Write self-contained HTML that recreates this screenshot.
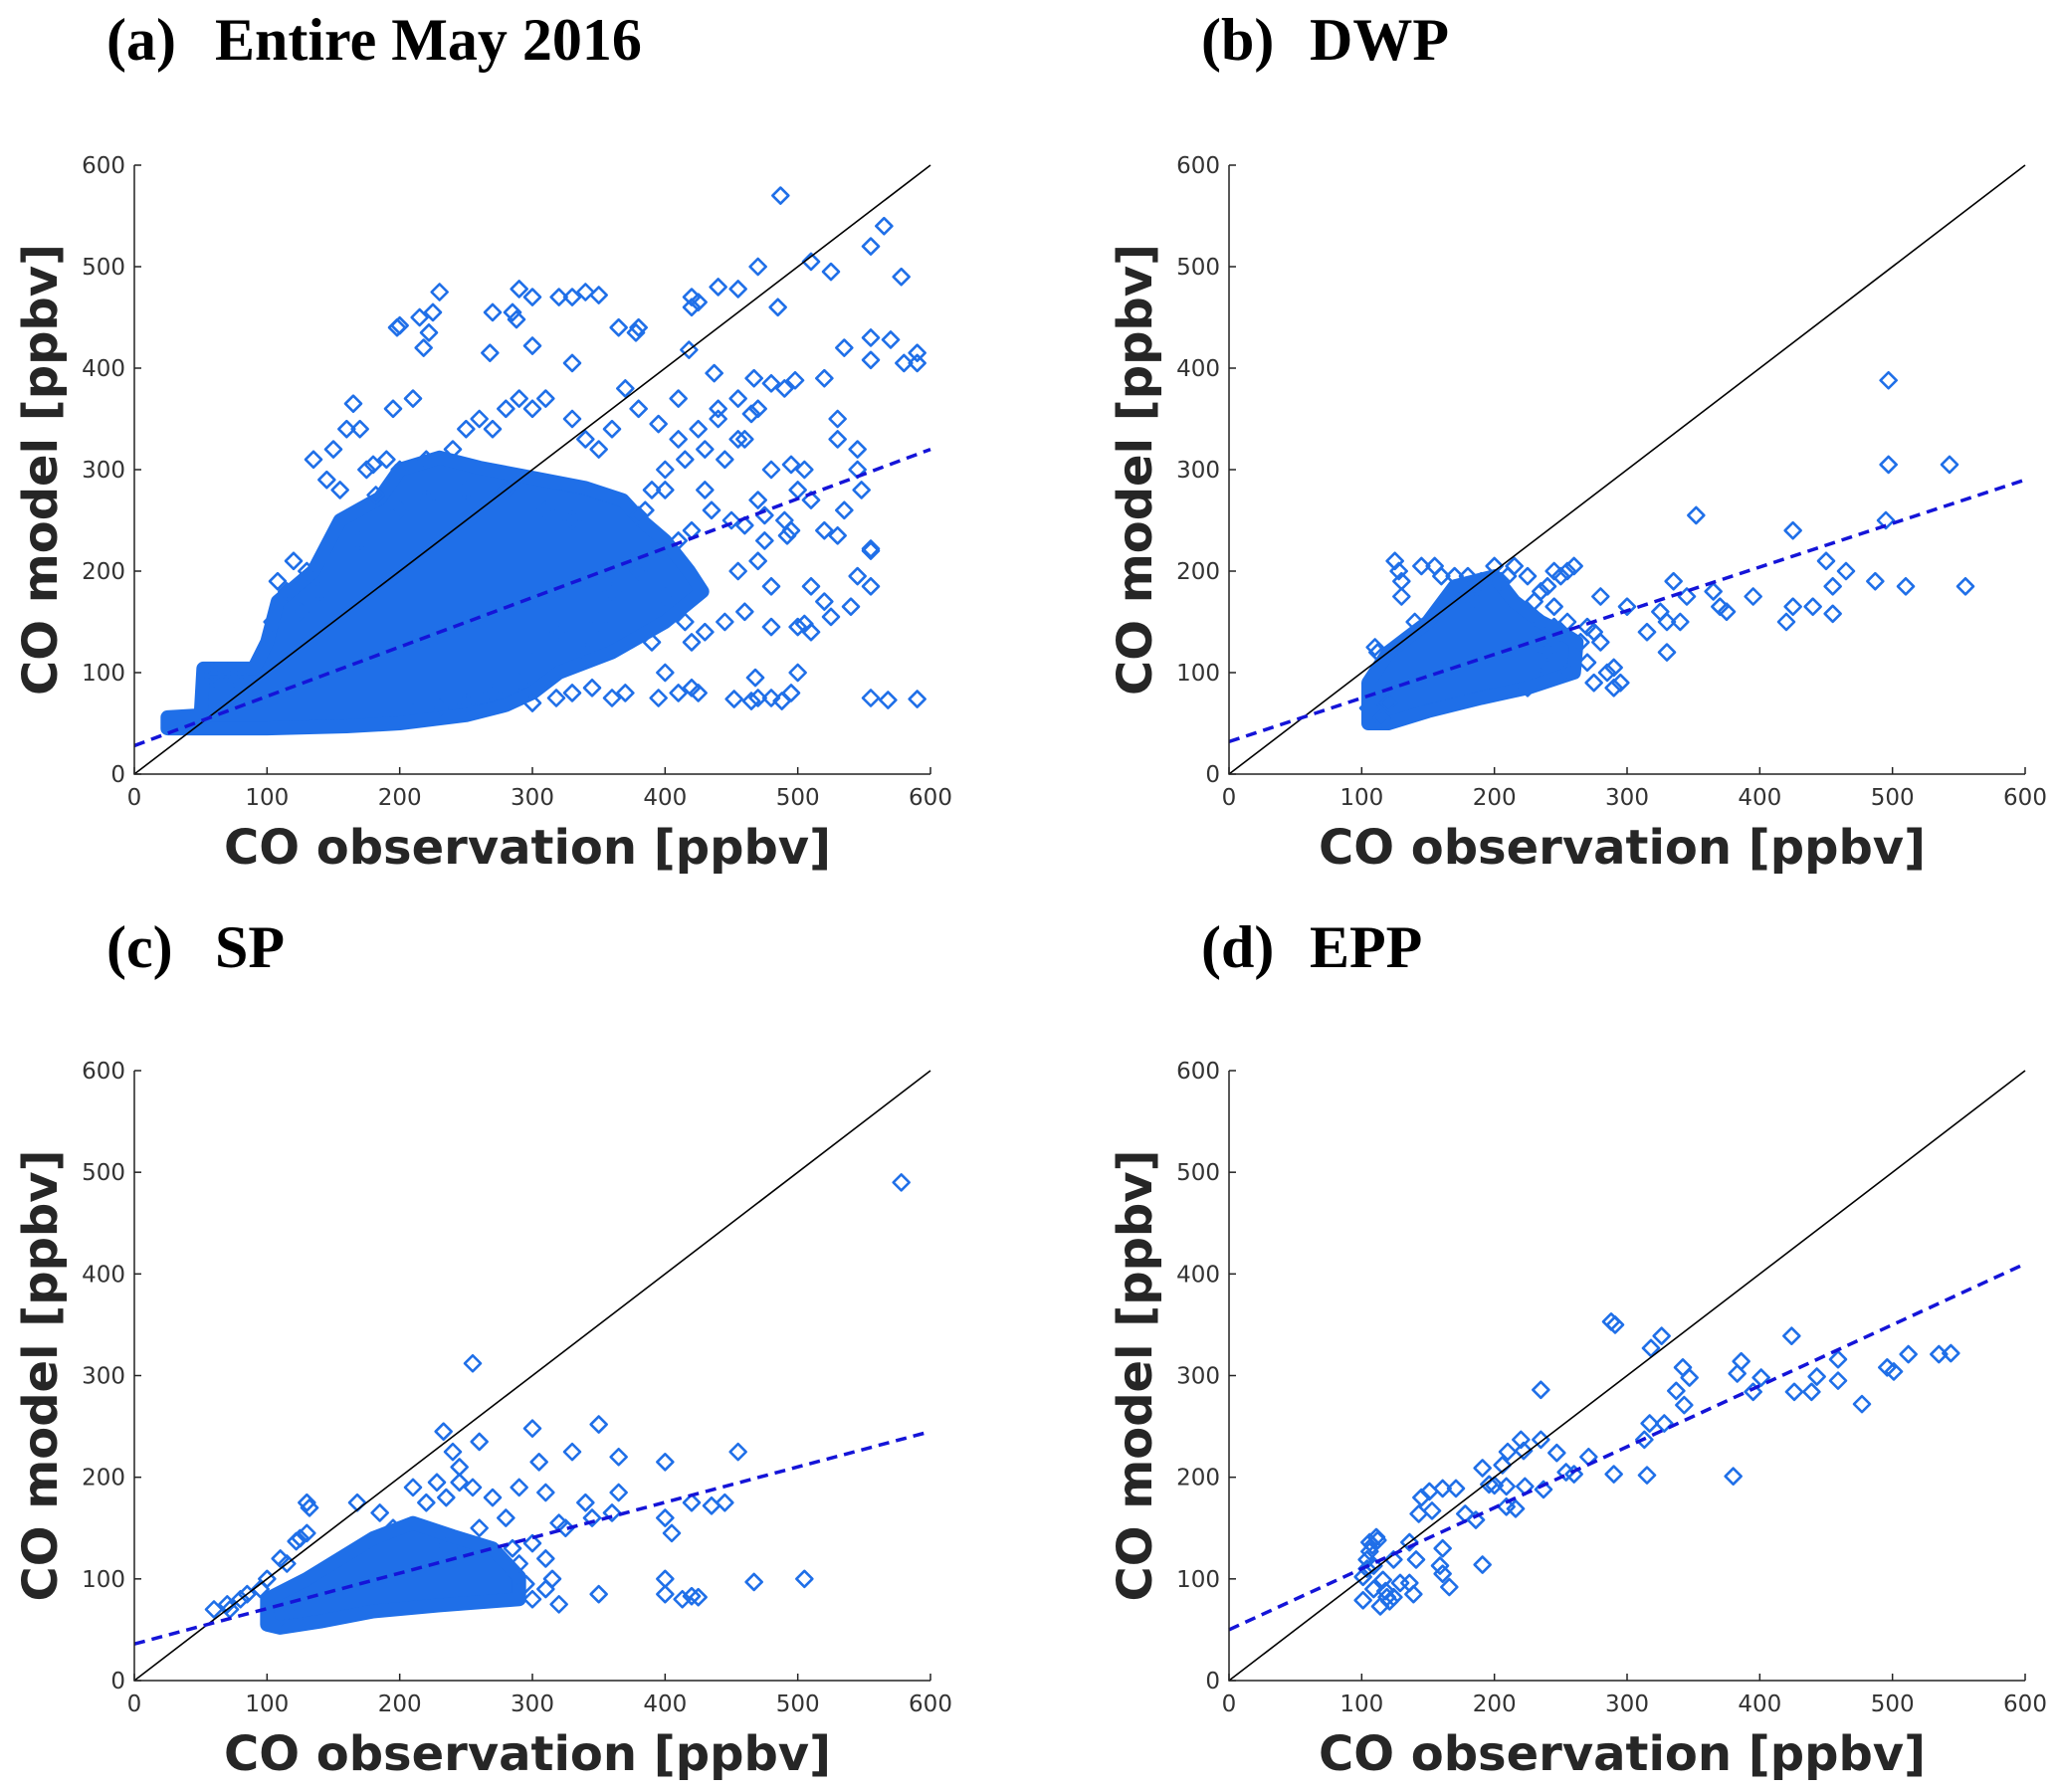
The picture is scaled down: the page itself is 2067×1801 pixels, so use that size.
<!DOCTYPE html>
<html><head><meta charset="utf-8"><style>
body{margin:0;background:#fff}
svg{display:block}
.tick{font-family:"DejaVu Sans","Liberation Sans",sans-serif;font-size:23px;fill:#333}
.atitle{font-family:"DejaVu Sans","Liberation Sans",sans-serif;font-size:48px;font-weight:bold;fill:#262626}
.ptitle{font-family:"Liberation Serif",serif;font-size:60px;font-weight:bold;fill:#000}
</style></head><body>
<svg id="fig" width="2067" height="1801" viewBox="0 0 2067 1801" xmlns="http://www.w3.org/2000/svg">
<g><text class="ptitle" x="107" y="60">(a)</text><text class="ptitle" x="216" y="60">Entire May 2016</text></g>
<g><text class="ptitle" x="1207" y="60">(b)</text><text class="ptitle" x="1316" y="60">DWP</text></g>
<g><text class="ptitle" x="107" y="972">(c)</text><text class="ptitle" x="216" y="972">SP</text></g>
<g><text class="ptitle" x="1207" y="972">(d)</text><text class="ptitle" x="1316" y="972">EPP</text></g>
</svg>
<script>
const tickValues=[0,100,200,300,400,500,600];
const fitA=[28,320], fitB=[32,290], fitC=[36,245], fitD=[50,410];
const coreA=[[25,45],[25,56],[50,58],[52,104],[90,104],[100,130],[108,170],[135,200],[155,250],[185,272],[200,300],[230,312],[260,302],[300,292],[340,282],[368,270],[382,250],[400,230],[418,200],[428,180],[400,150],[360,120],[320,100],[300,80],[280,68],[250,58],[200,50],[160,47],[100,45]];
const coreB=[[105,50],[105,90],[120,120],[150,150],[170,185],[200,195],[215,170],[235,150],[250,140],[262,130],[260,100],[225,85],[190,75],[150,62],[120,50]];
const coreC=[[100,55],[100,80],[130,100],[180,140],[210,155],[240,142],[270,130],[290,102],[290,80],[230,74],[180,68],[140,58],[110,52]];
const coreD=[];
const ptsA=[[487,570],[565,540],[555,520],[578,490],[510,505],[525,495],[470,500],[440,480],[455,478],[420,470],[425,465],[420,460],[485,460],[290,478],[300,470],[230,475],[320,470],[330,470],[340,475],[350,472],[200,442],[198,440],[215,450],[225,455],[218,420],[222,435],[270,455],[285,455],[288,448],[268,415],[300,422],[330,405],[365,440],[380,440],[378,435],[418,418],[535,420],[555,430],[570,428],[580,405],[590,415],[590,405],[555,408],[520,390],[498,388],[490,380],[480,385],[467,390],[437,395],[455,370],[410,370],[425,340],[440,360],[440,350],[165,365],[195,360],[210,370],[135,310],[150,320],[160,340],[170,340],[175,300],[182,275],[530,350],[545,320],[545,300],[535,260],[548,280],[505,300],[510,270],[492,235],[500,280],[530,330],[555,220],[555,222],[545,195],[555,185],[540,165],[520,170],[525,155],[510,185],[500,145],[505,148],[510,140],[480,145],[460,160],[475,230],[470,210],[480,185],[455,200],[445,150],[430,140],[420,130],[415,150],[400,175],[390,130],[480,75],[470,75],[465,72],[452,74],[488,72],[495,80],[500,100],[468,95],[555,75],[568,73],[590,74],[420,85],[425,80],[400,100],[410,80],[395,75],[370,80],[360,75],[345,85],[330,80],[318,75],[300,70],[350,320],[360,340],[370,380],[380,360],[395,345],[410,330],[400,300],[390,280],[380,255],[455,330],[465,355],[470,360],[450,250],[460,245],[430,280],[435,260],[420,240],[410,230],[330,350],[340,330],[300,360],[310,370],[290,370],[280,360],[260,350],[250,340],[240,320],[270,340],[220,310],[200,300],[190,310],[180,305],[145,290],[155,280],[120,210],[108,190],[104,150],[115,180],[130,200],[460,330],[445,310],[480,300],[495,305],[470,270],[475,255],[490,250],[495,240],[520,240],[530,235],[430,320],[415,310],[400,280],[385,260],[380,200],[360,180],[350,150],[340,120],[320,140],[300,110],[290,90],[270,80],[250,70],[230,65],[210,60],[330,250],[310,260],[280,280],[250,280],[220,270],[200,260],[170,230],[150,210],[140,180],[125,160],[60,100],[70,100],[80,100],[60,95],[75,95]];
const ptsB=[[497,388],[497,305],[543,305],[352,255],[495,250],[425,240],[487,190],[510,185],[555,185],[465,200],[450,210],[455,185],[440,165],[455,158],[425,165],[420,150],[395,175],[375,160],[370,165],[365,180],[340,150],[345,175],[335,190],[325,160],[330,150],[330,120],[315,140],[300,165],[280,175],[290,85],[295,90],[285,100],[275,90],[270,110],[265,130],[255,200],[250,195],[260,205],[245,200],[240,185],[230,170],[215,205],[200,205],[180,195],[160,195],[155,205],[145,205],[125,210],[128,200],[130,175],[140,150],[110,125],[112,120],[130,190],[185,170],[205,190],[210,195],[230,155],[245,145],[250,140],[240,120],[255,100],[235,95],[225,85],[280,130],[275,140],[290,105],[270,145],[110,60],[115,55],[105,65],[120,70],[235,180],[245,165],[255,150],[225,195],[190,190],[170,195]];
const ptsC=[[578,490],[255,312],[350,252],[300,248],[260,235],[233,245],[240,225],[245,210],[245,195],[228,195],[255,190],[270,180],[235,180],[210,190],[220,175],[365,220],[330,225],[455,225],[400,215],[305,215],[445,175],[420,175],[435,172],[400,160],[405,145],[310,185],[290,190],[280,160],[320,155],[325,150],[340,175],[365,185],[360,165],[345,160],[400,100],[400,85],[420,83],[413,80],[425,82],[350,85],[320,75],[310,90],[315,100],[300,80],[295,95],[467,97],[505,100],[130,175],[132,170],[125,140],[130,145],[122,137],[70,75],[72,70],[60,70],[80,80],[85,85],[168,175],[185,165],[195,150],[300,135],[310,120],[285,130],[290,115],[95,90],[100,100],[110,120],[115,115],[260,150],[230,140],[250,130],[105,58],[110,62],[120,60]];
const ptsD=[[288,353],[291,350],[326,339],[318,327],[424,339],[342,308],[347,298],[337,285],[343,271],[386,314],[383,302],[401,298],[395,284],[426,284],[439,284],[443,299],[459,316],[459,295],[477,272],[496,308],[501,304],[512,321],[535,321],[544,322],[380,201],[235,286],[315,202],[290,203],[313,237],[317,253],[328,253],[271,220],[254,205],[260,203],[247,224],[235,237],[220,237],[222,226],[210,225],[206,212],[191,209],[196,193],[200,192],[209,191],[223,191],[237,188],[209,171],[216,169],[191,114],[178,164],[186,158],[171,189],[161,189],[151,186],[145,180],[143,164],[153,167],[161,130],[159,113],[161,105],[166,92],[141,119],[136,136],[124,119],[136,96],[139,85],[129,96],[124,82],[111,141],[106,136],[104,119],[101,102],[101,79],[109,90],[114,73],[119,82],[116,99],[109,113],[106,127],[112,138],[108,133],[104,110],[118,88],[121,78]];

const NS='http://www.w3.org/2000/svg';
const svg=document.getElementById('fig');
function mk(tag,attrs,parent){const e=document.createElementNS(NS,tag);for(const k in attrs)e.setAttribute(k,attrs[k]);parent.appendChild(e);return e;}
function panel(id,x0,x1,y0,y1,pts,core,fit){
  const g=mk('g',{},svg);
  
  
  const sx=v=>x0+(x1-x0)*v/600, sy=v=>y0-(y0-y1)*v/600;
  const clip='clip'+id;
  const cp=mk('clipPath',{id:clip},g);mk('rect',{x:x0,y:y1-12,width:x1-x0+12,height:y0-y1+12},cp);
  const data=mk('g',{'clip-path':'url(#'+clip+')'},g);
  if(core.length){
    const poly=mk('polygon',{points:core.map(p=>sx(p[0])+','+sy(p[1])).join(' '),fill:'#1f6fe8',stroke:'#1f6fe8','stroke-width':14,'stroke-linejoin':'round'},data);
    
    
  }
  pts.forEach(p=>{
    const cx=sx(p[0]),cy=sy(p[1]),r=8;
    const m=mk('path',{d:`M${cx} ${cy-r}L${cx+r} ${cy}L${cx} ${cy+r}L${cx-r} ${cy}Z`,fill:'none',stroke:'#1f6fe8','stroke-width':2.6,'stroke-linejoin':'round'},data);
    
    
  });
  const id1=mk('line',{x1:sx(0),y1:sy(0),x2:sx(600),y2:sy(600),stroke:'#000','stroke-width':1.6},g);
  
  
  const fl=mk('line',{x1:sx(0),y1:sy(fit[0]),x2:sx(600),y2:sy(fit[1]),stroke:'#1414d8','stroke-width':3.5,'stroke-dasharray':'11 7'},g);
  
  
  const ax=mk('path',{d:`M${x0} ${y1}L${x0} ${y0}L${x1} ${y0}`,fill:'none',stroke:'#222','stroke-width':1.5},g);
  
  
  tickValues.forEach(v=>{
    mk('line',{x1:sx(v),y1:y0,x2:sx(v),y2:y0-7,stroke:'#222','stroke-width':1.5},g);
    mk('line',{x1:x0,y1:sy(v),x2:x0+7,y2:sy(v),stroke:'#222','stroke-width':1.5},g);
    const tx=mk('text',{class:'tick',x:sx(v),y:y0+31,'text-anchor':'middle'},g);tx.textContent=v;
    
    
    const ty=mk('text',{class:'tick',x:x0-9,y:sy(v)+8,'text-anchor':'end'},g);ty.textContent=v;
    
    
  });
  const xt=mk('text',{class:'atitle',x:(x0+x1)/2-5,y:y0+90,'text-anchor':'middle'},g);xt.textContent='CO observation [ppbv]';
  
  
  const yc=(y0+y1)/2;
  const yt=mk('text',{class:'atitle',x:0,y:0,'text-anchor':'middle',transform:`translate(${x0-78},${yc}) rotate(-90)`},g);yt.textContent='CO model [ppbv]';
  
  
}
panel('a',135,935,778,166,ptsA,coreA,fitA);
panel('b',1235,2035,778,166,ptsB,coreB,fitB);
panel('c',135,935,1689,1076,ptsC,coreC,fitC);
panel('d',1235,2035,1689,1076,ptsD,coreD,fitD);
</script>
</body></html>
